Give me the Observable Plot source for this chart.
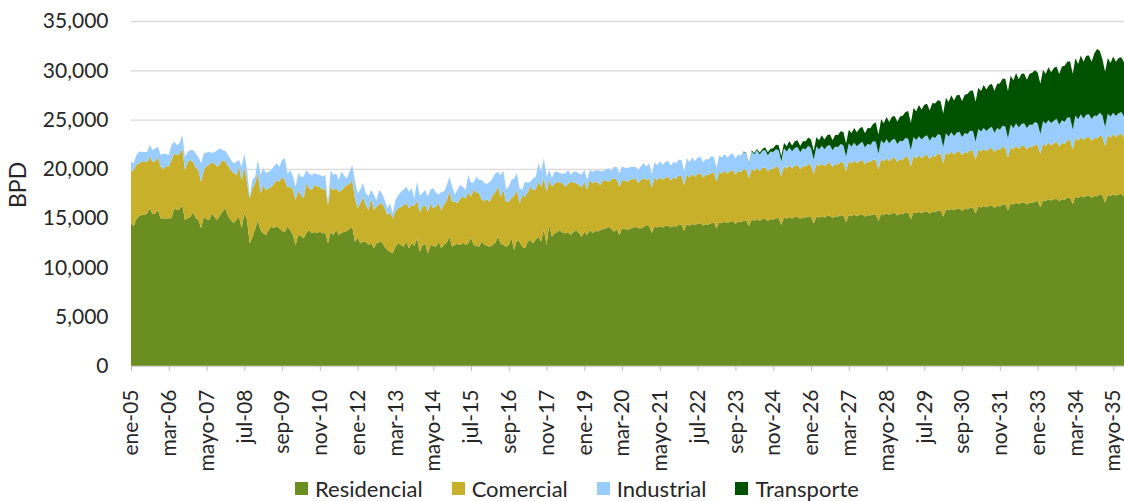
<!DOCTYPE html>
<html>
<head>
<meta charset="utf-8">
<script src="https://cdn.jsdelivr.net/npm/d3@7"></script>
<script src="https://cdn.jsdelivr.net/npm/@observablehq/plot@0.6"></script>
<style>
  html, body { margin: 0; padding: 0; background: #ffffff; }
  body { width: 1124px; height: 501px; overflow: hidden; font-family: Lato, "Open Sans", sans-serif; }
  #chart svg { display: block; }
  #legend { display: flex; align-items: center; height: 25px; padding-left: 295px; font-size: 22px; color: #262626; }
  .item { display: flex; align-items: center; margin-right: 29px; }
  .sw { width: 13px; height: 13px; margin-right: 7px; }
</style>
</head>
<body>
<div id="chart"></div>
<div id="legend"></div>
<script>
// Series (stack order, bottom to top)
const seriesNames = ["Residencial", "Comercial", "Industrial", "Transporte"];
const seriesColors = ["#6b8e23", "#c9b02a", "#99ccff", "#005200"];

// Monthly values, BPD, from ene-05 (Jan 2005) to sep-35 (Sep 2035)
const residencial = [
  14480, 14200, 14900, 15200, 15320, 15350, 15490, 16000, 15400, 15500, 15830, 14980,
  14950, 14950, 14980, 15000, 16000, 15830, 15900, 16330, 14810, 15000, 15150, 15600,
  15000, 14800, 13970, 15150, 14900, 14810, 15490, 15100, 14810, 15300, 15700, 16000,
  15200, 14810, 14480, 14800, 15150, 13970, 15490, 14810, 12450, 13120, 13900, 14810,
  13800, 13460, 13290, 13800, 14130, 14000, 14200, 13970, 13700, 13600, 14130, 13800,
  13290, 12280, 13290, 13200, 12950, 13500, 13800, 13460, 13600, 13500, 13630, 13460,
  13500, 12450, 13630, 13290, 13800, 13290, 13500, 13630, 13700, 13900, 14130, 12610,
  13000, 12450, 12600, 12610, 12280, 12500, 11940, 12450, 12550, 12610, 12110, 11770,
  11600, 11430, 12110, 12450, 12300, 12110, 12610, 11940, 12450, 12200, 12950, 11600,
  12200, 12450, 11430, 12280, 12200, 12110, 12610, 11940, 12300, 12500, 13120, 12110,
  12300, 12400, 12280, 12500, 12300, 12450, 13000, 12280, 12200, 12110, 12620, 12300,
  12200, 12110, 12280, 12500, 13120, 12450, 12300, 12110, 12280, 12950, 11770, 12780,
  12600, 12110, 11940, 12600, 12780, 12450, 12800, 13120, 12620, 13900, 12300, 14300,
  13100, 13460, 13600, 13800, 13500, 13460, 13600, 13290, 13600, 13800, 13500, 13120,
  13630, 13290, 13800, 13500, 13700, 13650, 13800, 13900, 13950, 14130, 13900, 13630,
  13900, 13300, 13970, 13900, 13800, 13950, 14000, 14130, 13970, 13970, 14100, 14300,
  14200, 13500, 14150, 14050, 14200, 14050, 14200, 14250, 14050, 14200, 14150, 14300,
  14340, 13710, 14410, 14240, 14410, 14290, 14460, 14490, 14260, 14390, 14360, 14490,
  14560, 13940, 14590, 14510, 14640, 14510, 14640, 14710, 14440, 14660, 14590, 14760,
  14790, 14210, 14860, 14740, 14910, 14740, 14910, 14940, 14710, 14890, 14860, 14990,
  15010, 14340, 15060, 14940, 15110, 14940, 15110, 15140, 14910, 15090, 15060, 15190,
  15090, 14460, 15140, 15060, 15190, 15060, 15210, 15240, 15010, 15190, 15160, 15290,
  15260, 14590, 15310, 15190, 15360, 15190, 15310, 15390, 15160, 15290, 15260, 15390,
  15370, 14710, 15410, 15340, 15470, 15340, 15470, 15540, 15270, 15440, 15390, 15560,
  15560, 14870, 15610, 15490, 15660, 15490, 15660, 15690, 15460, 15640, 15610, 15740,
  15810, 15140, 15870, 15790, 15940, 15810, 15940, 16010, 15740, 15960, 15890, 16060,
  16090, 15460, 16170, 16090, 16240, 16110, 16240, 16310, 16040, 16260, 16190, 16360,
  16430, 15770, 16510, 16390, 16590, 16420, 16590, 16620, 16390, 16570, 16540, 16690,
  16740, 16110, 16820, 16740, 16910, 16780, 16910, 16980, 16710, 16930, 16860, 17060,
  17090, 16410, 17170, 17050, 17260, 17090, 17260, 17290, 17060, 17240, 17210, 17370,
  17310, 16590, 17360, 17240, 17430, 17270, 17430, 17440, 17200
];

const comercial = [
  5230, 5680, 5500, 5360, 5410, 5350, 5240, 5230, 5300, 5300, 5340, 5240,
  5000, 5340, 5240, 5900, 5570, 5570, 5600, 5750, 5070, 5730, 5750, 5100,
  5100, 5080, 4730, 4730, 5400, 5580, 5210, 5400, 5410, 5200, 5200, 4700,
  5100, 5070, 5120, 4580, 5070, 4900, 4730, 3790, 4560, 4880, 4630, 4740,
  3720, 4900, 4560, 4200, 4060, 4500, 4670, 4730, 5510, 5200, 3970, 4390,
  4610, 4560, 4560, 4100, 4060, 5030, 4200, 4390, 4760, 4700, 4560, 4390,
  4500, 3880, 4560, 4560, 4220, 4400, 4300, 4470, 4660, 4600, 4740, 4390,
  3000, 4050, 4580, 3690, 3550, 4510, 3890, 3710, 3850, 3890, 3890, 3550,
  4000, 3550, 3590, 3550, 3800, 4190, 3890, 4060, 3880, 4000, 3890, 4000,
  3960, 3850, 4230, 4220, 3800, 4090, 3890, 3890, 4100, 4300, 4570, 4560,
  4400, 4100, 4720, 4680, 4700, 5150, 4180, 5570, 5400, 5410, 4220, 4500,
  4700, 4560, 5070, 5100, 5070, 4730, 5600, 4490, 4420, 4060, 5530, 5070,
  3900, 5190, 5240, 5000, 5410, 5400, 5100, 5580, 5570, 5140, 5390, 4570,
  5090, 5040, 5100, 4800, 5030, 4730, 4900, 5410, 5000, 4730, 4860, 4980,
  5070, 4610, 5070, 5030, 5000, 4950, 4560, 4970, 4850, 4570, 5000, 5410,
  5000, 4890, 4900, 4900, 4900, 4950, 4950, 4910, 4560, 4930, 4940, 4570,
  4850, 4600, 4930, 4790, 4950, 4810, 4910, 4970, 4770, 4910, 4870, 5000,
  4960, 4690, 5040, 4880, 5060, 4900, 5020, 5080, 4860, 5000, 4980, 5110,
  5040, 4790, 5120, 5000, 5160, 5000, 5120, 5160, 4980, 5120, 5060, 5210,
  5110, 4840, 5170, 5050, 5210, 5050, 5170, 5230, 5010, 5150, 5130, 5240,
  5140, 4910, 5240, 5080, 5260, 5100, 5220, 5260, 5080, 5200, 5180, 5310,
  5240, 5010, 5320, 5200, 5340, 5220, 5300, 5380, 5160, 5320, 5260, 5410,
  5390, 5160, 5470, 5350, 5490, 5370, 5450, 5530, 5310, 5470, 5410, 5560,
  5510, 5240, 5590, 5430, 5610, 5450, 5570, 5610, 5430, 5550, 5530, 5640,
  5610, 5380, 5690, 5570, 5710, 5590, 5670, 5750, 5530, 5690, 5630, 5780,
  5710, 5440, 5790, 5630, 5810, 5650, 5770, 5810, 5630, 5750, 5730, 5840,
  5710, 5480, 5790, 5670, 5810, 5690, 5770, 5850, 5630, 5790, 5730, 5880,
  5660, 5390, 5740, 5580, 5760, 5600, 5720, 5760, 5580, 5700, 5680, 5790,
  5640, 5410, 5720, 5600, 5740, 5620, 5700, 5780, 5560, 5720, 5660, 5810,
  5860, 5590, 5940, 5780, 5960, 5800, 5920, 5960, 5780, 5900, 5880, 5990,
  5970, 5740, 6050, 5930, 6070, 5950, 6030, 6110, 5980
];

const industrial = [
  1020, 680, 1000, 1180, 1010, 1000, 1010, 1190, 1200, 1300, 1080, 1180,
  1620, 1210, 1180, 1520, 1190, 1020, 1100, 1360, 1350, 970, 1010, 1210,
  1470, 1320, 1860, 1690, 1350, 1350, 900, 1200, 1680, 1580, 1000, 1100,
  1100, 1020, 960, 1320, 680, 1350, 1350, 1280, 240, 900, 680, 1350,
  1880, 1690, 1750, 1700, 1690, 1800, 1690, 1520, 1690, 2300, 1400, 1690,
  1400, 1350, 1700, 1900, 2200, 1350, 1500, 1530, 1190, 1250, 1190, 1350,
  1400, 270, 1690, 1530, 1530, 1180, 1920, 1200, 680, 1200, 1530, 1800,
  1500, 1400, 1350, 1220, 1370, 840, 1520, 640, 1450, 1000, 840, 680,
  900, 510, 1140, 1300, 1590, 1600, 1690, 1690, 1690, 810, 1860, 1700,
  1360, 1550, 1540, 1400, 2020, 1400, 900, 1860, 1300, 1500, 1510, 1520,
  700, 1400, 1360, 1000, 850, 1780, 1400, 800, 1610, 1350, 2030, 1730,
  1600, 2000, 1700, 1950, 1500, 2200, 1900, 1300, 1500, 1860, 1740, 1700,
  1500, 600, 1520, 1000, 500, 1200, 1300, 1860, 1530, 2030, 1520, 1000,
  900, 1200, 1000, 950, 1000, 1360, 1380, 700, 1100, 1190, 1190, 1300,
  1200, 1000, 1010, 1190, 1100, 1280, 1400, 900, 1100, 1350, 900, 1180,
  1300, 1360, 1400, 1300, 1350, 1300, 1250, 1180, 1350, 1400, 1520, 1350,
  1550, 1300, 1590, 1520, 1610, 1530, 1590, 1610, 1510, 1580, 1560, 1630,
  1610, 1340, 1650, 1560, 1670, 1570, 1650, 1650, 1570, 1620, 1620, 1670,
  1640, 1410, 1680, 1630, 1700, 1640, 1680, 1720, 1600, 1690, 1650, 1740,
  1710, 1440, 1750, 1660, 1770, 1670, 1750, 1750, 1670, 1720, 1720, 1770,
  1740, 1510, 1780, 1730, 1800, 1740, 1780, 1820, 1700, 1790, 1750, 1840,
  1760, 1490, 1800, 1710, 1820, 1720, 1800, 1800, 1720, 1770, 1770, 1820,
  1740, 1510, 1780, 1730, 1800, 1740, 1780, 1820, 1700, 1790, 1750, 1840,
  1860, 1590, 1900, 1810, 1920, 1820, 1900, 1900, 1820, 1870, 1870, 1920,
  1890, 1660, 1930, 1880, 1950, 1890, 1930, 1970, 1850, 1940, 1900, 1990,
  1910, 1640, 1950, 1860, 1970, 1870, 1950, 1950, 1870, 1920, 1920, 1970,
  2040, 1810, 2080, 2030, 2100, 2040, 2080, 2120, 2000, 2090, 2050, 2140,
  2210, 1940, 2250, 2160, 2270, 2170, 2250, 2250, 2170, 2220, 2220, 2270,
  2240, 2010, 2280, 2230, 2300, 2240, 2280, 2320, 2200, 2290, 2250, 2340,
  2260, 1990, 2300, 2210, 2320, 2220, 2300, 2300, 2220, 2270, 2270, 2320,
  2140, 1910, 2180, 2130, 2200, 2140, 2180, 2220, 2130
];

// Transporte starts in nov-23 (month index 226)
const transporteStart = 226;
const transporte = [
  0, 40,
  60, 80, 110, 150, 130, 200, 180, 260, 300, 280, 380, 450,
  500, 520, 580, 540, 650, 600, 700, 680, 620, 720, 800, 850,
  900, 880, 950, 920, 1050, 980, 1100, 1080, 1000, 1150, 1250, 1300,
  1350, 1300, 1400, 1380, 1500, 1420, 1550, 1520, 1450, 1600, 1700, 1750,
  2000, 1950, 2100, 2050, 2250, 2150, 2350, 2300, 2250, 2450, 2600, 2650,
  2800, 2750, 2950, 2900, 3150, 3050, 3250, 3200, 3100, 3400, 3500, 3450,
  3450, 3400, 3600, 3500, 3750, 3600, 3800, 3750, 3650, 3900, 4050, 4050,
  4100, 4050, 4200, 4100, 4350, 4200, 4400, 4350, 4250, 4500, 4700, 4750,
  4850, 4800, 4950, 4850, 5100, 4900, 5100, 5050, 4900, 5150, 5300, 5250,
  5150, 5100, 5200, 5050, 5350, 5150, 5350, 5300, 5150, 5450, 5700, 5650,
  5700, 5650, 5800, 5600, 5950, 5750, 6000, 5950, 5800, 6300, 6800, 6300,
  5700, 5600, 5650, 5450, 5700, 5500, 5600, 5550, 5500
];

// Axis labels
const tickLabels = ["ene-05","mar-06","mayo-07","jul-08","sep-09","nov-10","ene-12","mar-13","mayo-14",
  "jul-15","sep-16","nov-17","ene-19","mar-20","mayo-21","jul-22","sep-23","nov-24","ene-26","mar-27",
  "mayo-28","jul-29","sep-30","nov-31","ene-33","mar-34","mayo-35"];
const tickEveryMonths = 14;
const yTicks = [0, 5000, 10000, 15000, 20000, 25000, 30000, 35000];
const yLabel = "BPD";

// Long table for the stacked areas
const rows = [];
residencial.forEach((v, i) => rows.push({m: i, serie: "Residencial", v}));
comercial.forEach((v, i) => rows.push({m: i, serie: "Comercial", v}));
industrial.forEach((v, i) => rows.push({m: i, serie: "Industrial", v}));
transporte.forEach((v, i) => rows.push({m: transporteStart + i, serie: "Transporte", v}));

const tickIdx = tickLabels.map((_, k) => k * tickEveryMonths);
const fmt = d3.format(",");

const chart = Plot.plot({
  width: 1124,
  height: 476,
  marginLeft: 131,
  marginRight: 0,
  marginTop: 21,
  marginBottom: 110,
  style: {fontFamily: "Lato, 'Open Sans', sans-serif", fontSize: "21px", color: "#262626", background: "#ffffff"},
  x: {domain: [0, residencial.length - 1]},
  y: {domain: [0, 35000]},
  color: {domain: seriesNames, range: seriesColors},
  marks: [
    Plot.ruleY(yTicks.filter(d => d > 0), {stroke: "#d9d9d9", strokeWidth: 1.3}),
    Plot.areaY(rows, {x: "m", y: "v", z: "serie", fill: "serie", order: seriesNames}),
    Plot.ruleY([0], {stroke: "#d9d9d9", strokeWidth: 1.3}),
    Plot.axisY({ticks: yTicks, tickFormat: fmt, tickSize: 0, tickPadding: 23, label: null, fontSize: 21}),
    Plot.axisX({ticks: tickIdx, tickFormat: d => tickLabels[Math.round(d / tickEveryMonths)], tickRotate: -90,
      tickSize: 5, tickPadding: 18, stroke: "#bfbfbf", label: null, fontSize: 21}),
    Plot.text([yLabel], {frameAnchor: "left", rotate: -90, dx: -113, dy: 14, fontSize: 23, fill: "#262626"})
  ]
});
document.getElementById("chart").appendChild(chart);

// Legend
const legend = document.getElementById("legend");
seriesNames.forEach((name, k) => {
  const item = document.createElement("div");
  item.className = "item";
  const sw = document.createElement("span");
  sw.className = "sw";
  sw.style.background = seriesColors[k];
  const tx = document.createElement("span");
  tx.textContent = name;
  item.appendChild(sw);
  item.appendChild(tx);
  legend.appendChild(item);
});
</script>
</body>
</html>
